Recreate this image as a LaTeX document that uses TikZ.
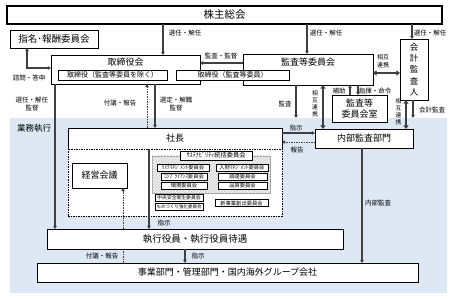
\documentclass[tikz,border=0pt]{standalone}
\usepackage{fontspec}
\setmainfont{Noto Sans CJK JP}
\usetikzlibrary{arrows.meta,patterns}
\definecolor{bgblue}{HTML}{DDE8F4}
\definecolor{arrgray}{HTML}{404040}
\newcommand{\fsz}[2]{\fontsize{#1}{#2}\selectfont}
\begin{document}
\begin{tikzpicture}[x=1pt,y=-1pt,
  box/.style={draw=black, line width=0.9pt, fill=white, inner sep=0pt, outer sep=0pt, font=\fsz{9}{10}},
  ibox/.style={draw=black, line width=0.6pt, fill=white, inner sep=0pt, outer sep=0pt, font=\fsz{7}{8}},
  cbox/.style={draw=black, line width=0.6pt, fill=white, inner sep=0pt, outer sep=0pt, font=\fsz{5.3}{6}},
  ttl/.style={inner sep=0pt, font=\fsz{9}{10}},
  arr/.style={draw=arrgray, line width=1.1pt, -{Triangle[length=3.2pt,width=3.6pt]}},
  darr/.style={draw=arrgray, line width=1.6pt, {Triangle[length=3.6pt,width=5pt]}-{Triangle[length=3.6pt,width=5pt]}},
  sarr/.style={draw=arrgray, line width=1.1pt, {Triangle[length=3.2pt,width=3.6pt]}-{Triangle[length=3.2pt,width=3.6pt]}},
  dasharr/.style={draw=arrgray, line width=0.9pt, dashed, dash pattern=on 1.5pt off 1pt, -{Triangle[length=3.2pt,width=3.6pt]}},
  dashline/.style={draw=arrgray, line width=0.9pt, dash pattern=on 1.5pt off 1pt},
  lbl/.style={inner sep=0pt, align=center, font=\fsz{6.5}{8}},
  vlbl/.style={inner sep=0pt, align=center, font=\fsz{5.8}{7}},
]
\useasboundingbox (0,0) rectangle (453,299);
% business execution region
\node[fill=bgblue, minimum width=437pt, minimum height=175pt, inner sep=0pt, outer sep=0pt] (bg) at (228.5,205.5) {};
\node[inner sep=0pt, font=\fsz{8.5}{9}] (gyomu) at (34,128) {業務執行};

% top boxes
\node[box, line width=1.3pt, minimum width=435pt, minimum height=18pt, font=\fsz{10.5}{11}] (kabu) at (224.5,15) {株主総会};
\node[box, minimum width=88pt, minimum height=18pt, font=\fsz{9.5}{10}] (shimei) at (54,39) {指名･報酬委員会};
\node[box, minimum width=149pt, minimum height=29pt] (tori) at (125.5,69.5) {};
\node[ttl] (toriT) at (125.5,62) {取締役会};
\node[ibox, minimum width=109pt, minimum height=10pt] (toriA) at (112.5,75) {取締役（監査等委員を除く）};
\node[box, minimum width=130pt, minimum height=31pt] (kansa) at (308,69.5) {};
\node[ttl] (kansaT) at (308,62) {監査等委員会};
\node[ibox, minimum width=113pt, minimum height=10pt] (toriB) at (232.5,75) {取締役（監査等委員）};
\node[box, minimum width=28pt, minimum height=61pt, align=center, font=\fsz{8.5}{11.25}] (kaikei) at (414,69.5) {会\\計\\監\\査\\人};
\node[box, minimum width=55pt, minimum height=27pt, align=center, font=\fsz{9}{11}] (shitsu) at (359.5,108.5) {監査等\\委員会室};

% execution boxes
\node[box, minimum width=98pt, minimum height=19pt] (naibu) at (364,138.5) {内部監査部門};
\node[box, minimum width=214pt, minimum height=21pt] (shacho) at (175,138.5) {社長};
\node[draw=black, line width=0.7pt, dash pattern=on 1.5pt off 1pt, fill=white, inner sep=0pt, outer sep=0pt, minimum width=214pt, minimum height=67pt] (area) at (175,182.5) {};
\node[box, minimum width=55pt, minimum height=25pt] (keiei) at (99.5,175.5) {経営会議};
\node[draw=gray!70, line width=0.4pt, fill=gray!10, postaction={pattern=north east lines, pattern color=gray!45}, inner sep=0pt, outer sep=0pt, minimum width=118pt, minimum height=37pt] (comm) at (211,174.5) {};
\node[cbox, font=\fsz{6.2}{7}, minimum width=72pt, minimum height=9pt] (sus) at (216,155.5) {ｻｽﾃﾅﾋﾞﾘﾃｨ統括委員会};
\node[cbox, minimum width=52pt, minimum height=7pt] (risk) at (183,167.5) {ﾘｽｸﾏﾈｼﾞﾒﾝﾄ委員会};
\node[cbox, minimum width=52pt, minimum height=7pt] (jinzai) at (242,167.5) {人財ﾏﾈｼﾞﾒﾝﾄ委員会};
\node[cbox, minimum width=46pt, minimum height=7pt] (comp) at (184,176.5) {ｺﾝﾌﾟﾗｲｱﾝｽ委員会};
\node[cbox, minimum width=49pt, minimum height=7pt] (chotatsu) at (242.5,176.5) {調達委員会};
\node[cbox, minimum width=46pt, minimum height=7pt] (kankyo) at (184,185.5) {環境委員会};
\node[cbox, minimum width=49pt, minimum height=7pt] (hinshitsu) at (242.5,185.5) {品質委員会};
\node[cbox, font=\fsz{4.8}{5}, minimum width=48pt, minimum height=6.5pt] (chuo) at (179,198) {中央安全衛生委員会};
\node[cbox, font=\fsz{4.5}{5}, minimum width=48pt, minimum height=7pt] (mono) at (179,206.5) {ものづくり強化委員会};
\node[cbox, minimum width=53pt, minimum height=7pt] (shinjigyo) at (241.5,203) {新事業創出委員会};
\node[box, minimum width=296pt, minimum height=20pt, font=\fsz{9.5}{10}] (shikkou) at (195,239) {執行役員・執行役員待遇};
\node[box, minimum width=381pt, minimum height=19pt] (jigyo) at (227.5,272.5) {事業部門・管理部門・国内海外グループ会社};

% connectors from shareholders
\draw[arr] (163,0 |- kabu.south) -- (163,0 |- tori.north);
\draw[arr] (307,0 |- kabu.south) -- (307,0 |- kansa.north);
\draw[arr] (412,0 |- kabu.south) -- (412,0 |- kaikei.north);
\node[lbl] (l1) at (185,33) {選任・解任};
\node[lbl] (l2) at (326,33) {選任・解任};
\node[lbl] (l3) at (430,33) {選任・解任};

% nomination committee
\draw[sarr] (27,0 |- shimei.south) |- (tori.west |- 0,68);
\node[lbl] (l4) at (29,78) {諮問・答申};

% audit committee relations
\draw[arr] (kansa.west |- 0,63) -- (tori.east |- 0,63);
\node[lbl] (l5) at (221,56) {監査・監督};
\draw[darr] (kansa.east |- 0,73) -- (kaikei.west |- 0,73);
\node[lbl, font=\fsz{6}{7.5}] (l6) at (383,61) {相互\\連携};
\draw[arr] (350,0 |- shitsu.north) -- (350,0 |- kansa.south);
\draw[arr] (358,0 |- kansa.south) -- (358,0 |- shitsu.north);
\node[lbl] (l7) at (339,91) {補助};
\node[lbl] (l8) at (375,91) {指揮・命令};
\draw[darr] (323,0 |- kansa.south) -- (323,0 |- naibu.north);
\node[vlbl] (l9) at (315,104) {相\\互\\連\\携};
\draw[darr] (406,0 |- kaikei.south) -- (406,0 |- naibu.north);
\node[vlbl] (l10) at (398.5,112) {相\\互\\連\\携};
\draw[arr] (413,0 |- kaikei.south) -- (413,0 |- bg.north);
\node[lbl] (l11) at (432,110) {会計監査};
\draw[arr] (296,0 |- kansa.south) -- (296,0 |- bg.north);
\node[lbl] (l12) at (285,104) {監査};

% board to execution
\draw[arr] (55,0 |- tori.south) -- (55,0 |- shikkou.north);
\node[lbl] (l13) at (32,104) {選任・解任\\監督};
\draw[arr] (155,0 |- tori.south) -- (155,0 |- shacho.north);
\node[lbl] (l14) at (176,104) {選定・解職\\監督};
\draw[dasharr] (147,0 |- shacho.north) -- (147,0 |- tori.south);
\node[lbl] (l15) at (120,103) {付議・報告};

% president and internal audit
\draw[arr] (shacho.east |- 0,133) -- (naibu.west |- 0,133);
\node[lbl] (l16) at (296,128) {指示};
\draw[dasharr] (naibu.west |- 0,142) -- (shacho.east |- 0,142);
\node[lbl] (l17) at (297,150) {報告};
\draw[arr] (362,0 |- naibu.south) -- (362,0 |- jigyo.north);
\node[lbl] (l18) at (378,203) {内部監査};

% president to executives
\draw[arr] (149,0 |- shacho.south) -- (149,0 |- shikkou.north);
\node[lbl] (l19) at (164,223) {指示};
\draw[dasharr] (123,0 |- shikkou.north) -- (123,0 |- keiei.south);
\draw[dashline] (123,0 |- jigyo.north) -- (123,0 |- shikkou.south);
\node[lbl] (l20) at (102,256) {付議・報告};
\draw[arr] (185,0 |- shikkou.south) -- (185,0 |- jigyo.north);
\node[lbl] (l21) at (198,256) {指示};
\end{tikzpicture}
\end{document}
